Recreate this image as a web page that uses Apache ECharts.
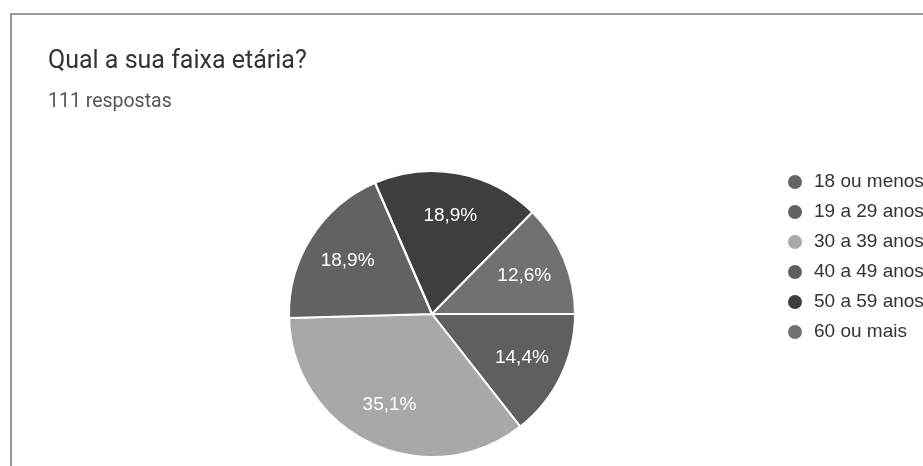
<!DOCTYPE html>
<html>
<head>
<meta charset="utf-8">
<script src="https://cdn.jsdelivr.net/npm/echarts@6/dist/echarts.min.js"></script>
<style>
  html, body { margin: 0; padding: 0; background: #ffffff; }
  #chart { width: 923px; height: 466px; }
</style>
</head>
<body>
<div id="chart"></div>
<script>
// respostas por faixa etária (111 no total)
const categories = ['18 ou menos', '19 a 29 anos', '30 a 39 anos', '40 a 49 anos', '50 a 59 anos', '60 ou mais']
const counts = [0, 21, 39, 16, 21, 14]
const greys = ['#646464', '#626262', '#a8a8a8', '#5f5f5f', '#3e3e3e', '#717171']
// ordem em que as fatias aparecem no sentido horário
const drawOrder = [4, 5, 3, 2, 1, 0]

const HEAD_FONT = 'Roboto, "Noto Sans", sans-serif'
const CHART_FONT = '"Liberation Sans", Arial, sans-serif'
const CENTER = [432, 314]
const RADIUS = 143

const sliceData = drawOrder.map((i) => ({
  name: categories[i],
  value: counts[i],
  itemStyle: { color: greys[i] },
}))

const pctLabel = (p) => (p.value ? p.percent.toFixed(1).replace('.', ',') + '%' : '')

const chart = echarts.init(document.getElementById('chart'), null, { renderer: 'canvas' })

chart.setOption({
  animation: false,
  backgroundColor: '#ffffff',
  textStyle: { fontFamily: CHART_FONT },
  graphic: [
    { type: 'rect', shape: { x: 10, y: 13, width: 2, height: 460 }, style: { fill: '#9a9a9a' } },
    { type: 'rect', shape: { x: 10, y: 13, width: 920, height: 2 }, style: { fill: '#9a9a9a' } },
  ],
  title: [
    {
      text: 'Qual a sua faixa etária?',
      left: 48,
      top: 49,
      padding: 0,
      textStyle: { fontFamily: HEAD_FONT, fontSize: 25, fontWeight: 'normal', color: '#333333' },
    },
    {
      text: '111 respostas',
      left: 48,
      top: 92,
      padding: 0,
      textStyle: { fontFamily: HEAD_FONT, fontSize: 19.5, fontWeight: 'normal', color: '#555555' },
    },
  ],
  legend: {
    orient: 'vertical',
    left: 786,
    top: 172,
    padding: 0,
    icon: 'circle',
    itemWidth: 16,
    itemHeight: 16,
    itemGap: 10,
    data: categories,
    selectedMode: false,
    textStyle: { fontFamily: CHART_FONT, fontSize: 19, lineHeight: 20, color: '#333333', padding: [0, 0, 0, 6] },
  },
  series: [
    {
      type: 'pie',
      center: CENTER,
      radius: [0, RADIUS],
      startAngle: 113.5,
      clockwise: true,
      silent: true,
      label: { show: false },
      labelLine: { show: false },
      itemStyle: { borderColor: '#ffffff', borderWidth: 2 },
      data: sliceData,
    },
    {
      // camada transparente só para posicionar os rótulos a ~2/3 do raio
      type: 'pie',
      center: CENTER,
      radius: [51, RADIUS],
      startAngle: 113.5,
      clockwise: true,
      silent: true,
      itemStyle: { color: 'rgba(0,0,0,0)', borderWidth: 0 },
      label: {
        show: true,
        position: 'inside',
        formatter: pctLabel,
        fontFamily: CHART_FONT,
        fontSize: 19,
        color: '#ffffff',
      },
      labelLine: { show: false },
      data: drawOrder.map((i) => ({ name: categories[i], value: counts[i] })),
    },
  ],
})
</script>
</body>
</html>
